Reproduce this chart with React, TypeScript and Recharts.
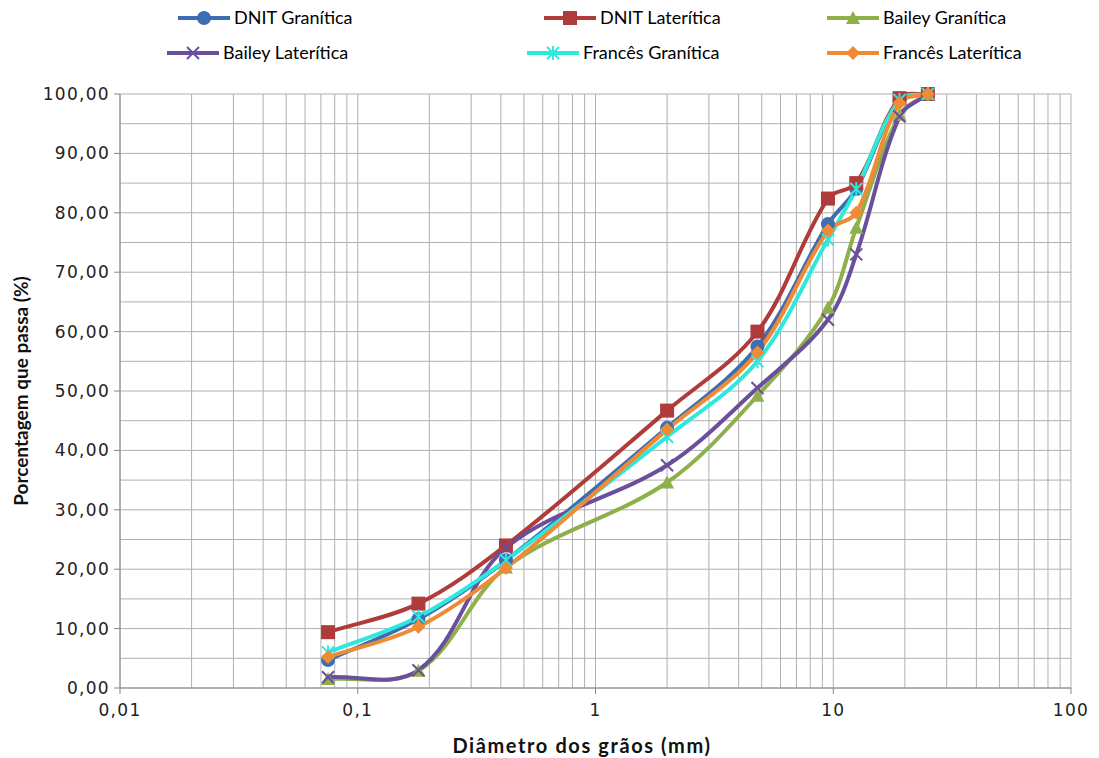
import { LineChart, Line, XAxis, YAxis, ReferenceLine } from "recharts";

// diameters (mm) of the sieves
const diameters = [0.075, 0.18, 0.42, 2.0, 4.8, 9.5, 12.5, 19, 25];

const dnitGranitica = [4.7, 11.6, 21.5, 43.8, 57.5, 78.1, 84.0, 99.0, 100];
const dnitLateritica = [9.4, 14.2, 24.0, 46.7, 60.0, 82.4, 85.0, 99.3, 100];
const baileyGranitica = [1.5, 2.9, 20.3, 34.6, 49.2, 64.0, 77.5, 96.5, 100];
const baileyLateritica = [1.8, 3.0, 23.6, 37.5, 50.5, 62.0, 73.0, 96.2, 100];
const francesGranitica = [6.0, 12.0, 21.5, 42.3, 55.0, 75.5, 84.0, 99.0, 100];
const francesLateritica = [5.2, 10.3, 20.2, 43.5, 56.5, 77.0, 80.0, 98.5, 100];

const xTicks = [0.01, 0.1, 1, 10, 100];
const yTicks = [0, 10, 20, 30, 40, 50, 60, 70, 80, 90, 100];

type Shape = "circle" | "square" | "triangle" | "x" | "asterisk" | "diamond";

const series: { key: string; name: string; color: string; shape: Shape; values: number[] }[] = [
  { key: "dg", name: "DNIT Granítica", color: "#3d6eb4", shape: "circle", values: dnitGranitica },
  { key: "dl", name: "DNIT Laterítica", color: "#b03b3b", shape: "square", values: dnitLateritica },
  { key: "bg", name: "Bailey Granítica", color: "#8db04a", shape: "triangle", values: baileyGranitica },
  { key: "bl", name: "Bailey Laterítica", color: "#6a4f9c", shape: "x", values: baileyLateritica },
  { key: "fg", name: "Francês Granítica", color: "#2ee8dc", shape: "asterisk", values: francesGranitica },
  { key: "fl", name: "Francês Laterítica", color: "#f08a34", shape: "diamond", values: francesLateritica },
];

const rows = diameters.map((d, i) => {
  const row: Record<string, number> = { d };
  series.forEach((s) => (row[s.key] = s.values[i]));
  return row;
});

// gridlines: every 1..9 x 10^k on the log axis, every 5 on y
const vGrid: number[] = [];
[0.01, 0.1, 1, 10].forEach((base) => {
  for (let m = 1; m <= 9; m++) vGrid.push(+(base * m).toPrecision(3));
});
vGrid.push(100);
const hGrid: number[] = [];
for (let v = 0; v <= 100; v += 5) hGrid.push(v);

// smoothed line close to Excel's: tangent along neighbours, handle length = 1/3 of the segment
function excelSmooth(context: any) {
  let pts: [number, number][] = [];
  const tangent = (i: number) => {
    const a = pts[Math.max(i - 1, 0)];
    const b = pts[Math.min(i + 1, pts.length - 1)];
    const dx = b[0] - a[0];
    const dy = b[1] - a[1];
    const len = Math.hypot(dx, dy) || 1;
    return [dx / len, dy / len];
  };
  return {
    areaStart() {},
    areaEnd() {},
    lineStart() {
      pts = [];
    },
    point(x: number, y: number) {
      pts.push([+x, +y]);
    },
    lineEnd() {
      if (!pts.length) return;
      context.moveTo(pts[0][0], pts[0][1]);
      for (let i = 0; i < pts.length - 1; i++) {
        const p1 = pts[i];
        const p2 = pts[i + 1];
        const seg = Math.hypot(p2[0] - p1[0], p2[1] - p1[1]) / 3;
        const t1 = tangent(i);
        const t2 = tangent(i + 1);
        context.bezierCurveTo(
          p1[0] + t1[0] * seg,
          p1[1] + t1[1] * seg,
          p2[0] - t2[0] * seg,
          p2[1] - t2[1] * seg,
          p2[0],
          p2[1]
        );
      }
    },
  };
}

function Marker({ cx, cy, shape, color }: { cx: number; cy: number; shape: Shape; color: string }) {
  switch (shape) {
    case "circle":
      return <circle cx={cx} cy={cy} r={7} fill={color} />;
    case "square":
      return <rect x={cx - 7} y={cy - 7} width={14} height={14} fill={color} />;
    case "triangle":
      return <polygon points={`${cx},${cy - 7} ${cx + 7},${cy + 6} ${cx - 7},${cy + 6}`} fill={color} />;
    case "diamond":
      return <polygon points={`${cx},${cy - 7} ${cx + 7},${cy} ${cx},${cy + 7} ${cx - 7},${cy}`} fill={color} />;
    case "x":
      return (
        <g stroke={color} strokeWidth={2}>
          <line x1={cx - 6} y1={cy - 6} x2={cx + 6} y2={cy + 6} />
          <line x1={cx - 6} y1={cy + 6} x2={cx + 6} y2={cy - 6} />
        </g>
      );
    case "asterisk":
      return (
        <g stroke={color} strokeWidth={2}>
          <line x1={cx - 6} y1={cy - 6} x2={cx + 6} y2={cy + 6} />
          <line x1={cx - 6} y1={cy + 6} x2={cx + 6} y2={cy - 6} />
          <line x1={cx} y1={cy - 7} x2={cx} y2={cy + 7} />
        </g>
      );
  }
}

const fmtY = (v: number) => v.toFixed(2).replace(".", ",");
const fmtX = (v: number) => String(v).replace(".", ",");

// legend slot positions (marker centre x, centre y)
const legendSlots = [
  [204, 18],
  [570, 18],
  [853, 18],
  [193, 53],
  [553, 53],
  [853, 53],
];

const tickStyle = { fill: "#222", fontSize: 17, fontFamily: "DejaVu Sans", letterSpacing: 1.3 };

export default function App() {
  return (
    <div
      style={{
        position: "absolute",
        left: 0,
        top: 0,
        width: 1099,
        height: 758,
        overflow: "hidden",
        background: "#fff",
        fontFamily: "Lato, sans-serif",
      }}
    >
      <LineChart
        width={1099}
        height={758}
        data={rows}
        margin={{ top: 94, right: 28, bottom: 10, left: 0 }}
      >
        {vGrid.map((v) => (
          <ReferenceLine key={"v" + v} x={v} stroke="#b0b0b0" strokeWidth={1} />
        ))}
        {hGrid.map((v) => (
          <ReferenceLine key={"h" + v} y={v} stroke="#b0b0b0" strokeWidth={1} />
        ))}
        <XAxis
          dataKey="d"
          type="number"
          scale="log"
          domain={[0.01, 100]}
          ticks={xTicks}
          tickFormatter={fmtX}
          allowDataOverflow
          height={60}
          stroke="#888"
          tickSize={6}
          tickMargin={10}
          tick={tickStyle}
        />
        <YAxis
          type="number"
          domain={[0, 100]}
          ticks={yTicks}
          tickFormatter={fmtY}
          width={120}
          stroke="#888"
          tickSize={6}
          tickMargin={4}
          interval={0}
          tick={tickStyle}
        />
        {series.map((s) => (
          <Line
            key={s.key}
            dataKey={s.key}
            name={s.name}
            type={excelSmooth as any}
            stroke={s.color}
            strokeWidth={4}
            isAnimationActive={false}
            dot={(p: any) => <Marker key={s.key + p.index} cx={p.cx} cy={p.cy} shape={s.shape} color={s.color} />}
            activeDot={false}
          />
        ))}
      </LineChart>
      <svg width={1099} height={758} style={{ position: "absolute", left: 0, top: 0, pointerEvents: "none" }}>
        {series.map((s, i) => {
          const [mx, my] = legendSlots[i];
          return (
            <g key={s.key}>
              <line x1={mx - 26} y1={my} x2={mx + 26} y2={my} stroke={s.color} strokeWidth={4} />
              <Marker cx={mx} cy={my} shape={s.shape} color={s.color} />
              <text x={mx + 30} y={my + 6} fontSize={18} fill="#000" fontFamily="Lato, sans-serif">
                {s.name}
              </text>
            </g>
          );
        })}
        <text
          x={582}
          y={745}
          textAnchor="middle"
          dominantBaseline="central"
          fontSize={20}
          fontWeight={700}
          letterSpacing={1.6}
          fill="#111"
          fontFamily="Lato, sans-serif"
        >
          Diâmetro dos grãos (mm)
        </text>
        <text
          x={0}
          y={0}
          transform="translate(20, 391) rotate(-90)"
          textAnchor="middle"
          dominantBaseline="central"
          fontSize={19}
          fontWeight={700}
          fill="#111"
          fontFamily="Lato, sans-serif"
        >
          Porcentagem que passa (%)
        </text>
      </svg>
    </div>
  );
}
